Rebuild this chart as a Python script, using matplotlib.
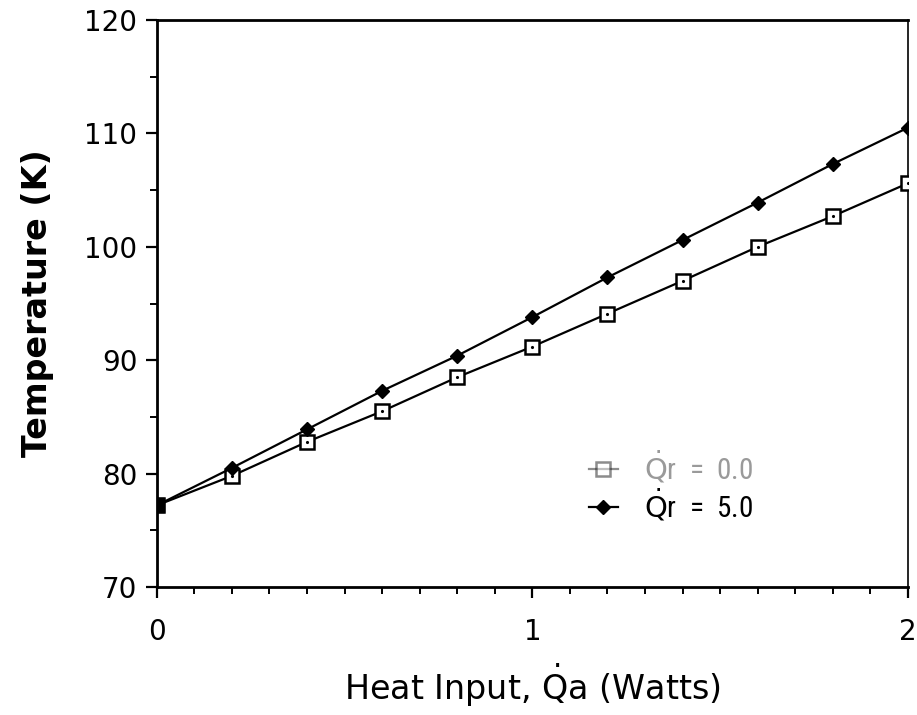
import numpy as np
import matplotlib.pyplot as plt
from matplotlib import font_manager

# heat input on the cold stage, W
qa = [0.0, 0.2, 0.4, 0.6, 0.8, 1.0, 1.2, 1.4, 1.6, 1.8, 2.0]

# stage temperature, K
t_qr0 = [77.2, 79.8, 82.8, 85.5, 88.5, 91.2, 94.1, 97.0, 100.0, 102.7, 105.6]
t_qr5 = [77.2, 80.5, 83.9, 87.3, 90.4, 93.8, 97.3, 100.6, 103.9, 107.3, 110.5]

labels = [r'$\dot{\mathrm{Q}}$r  =  0.0', r'$\dot{\mathrm{Q}}$r  =  5.0']

# narrow face for the legend if the system has one
names = {f.name for f in font_manager.fontManager.ttflist}
narrow = 'DejaVu Sans'
for cand in ['Liberation Sans Narrow', 'DejaVu Sans Condensed', 'Roboto Condensed']:
    if cand in names:
        narrow = cand
        break

fig = plt.figure(figsize=(9.17, 7.15), dpi=100)
ax = fig.add_axes([0.171, 0.179, 0.819, 0.793])

ax.plot(qa, t_qr0, '-', color='black', lw=1.6, marker='s', ms=10,
        mfc='white', mec='black', mew=1.8, label=labels[0], zorder=3)
ax.plot(qa, t_qr0, '.', color='black', ms=2.5, zorder=4)
ax.plot(qa, t_qr5, '-', color='black', lw=1.6, marker='D', ms=7.5,
        mfc='black', mec='black', label=labels[1], zorder=5)
# both runs start from the same point
ax.plot(qa[:1], t_qr0[:1], 's', color='black', ms=10, zorder=6)

ax.set_xlim(0, 2)
ax.set_ylim(70, 120)
ax.set_xticks([0, 1, 2])
ax.set_xticks(np.arange(0, 2.01, 0.1), minor=True)
ax.set_yticks(np.arange(70, 121, 10))
ax.set_yticks(np.arange(75, 120, 10), minor=True)

ax.tick_params(axis='both', which='major', direction='out', length=8,
               width=1.6, labelsize=20, pad=6)
ax.tick_params(axis='x', which='major', pad=14)
ax.tick_params(axis='both', which='minor', direction='out', length=5, width=1.4)

for side in ['left', 'bottom', 'top']:
    ax.spines[side].set_linewidth(2.0)
ax.spines['right'].set_linewidth(1.2)

ax.set_ylabel('Temperature (K)', family='DejaVu Sans', fontweight='bold',
              fontsize=24, labelpad=22)
ax.set_xlabel(r'Heat Input, $\dot{\mathrm{Q}}$a (Watts)', family='DejaVu Sans',
              fontsize=24, labelpad=12)

leg = ax.legend(loc='upper left', bbox_to_anchor=(0.54, 0.29), frameon=False,
                handlelength=1.0, handletextpad=0.9, labelspacing=0.05,
                prop={'family': narrow, 'size': 21})
leg.get_texts()[0].set_color('#9a9a9a')
leg.legend_handles[0].set_alpha(0.45)

fig.savefig('out.png', dpi=100)
